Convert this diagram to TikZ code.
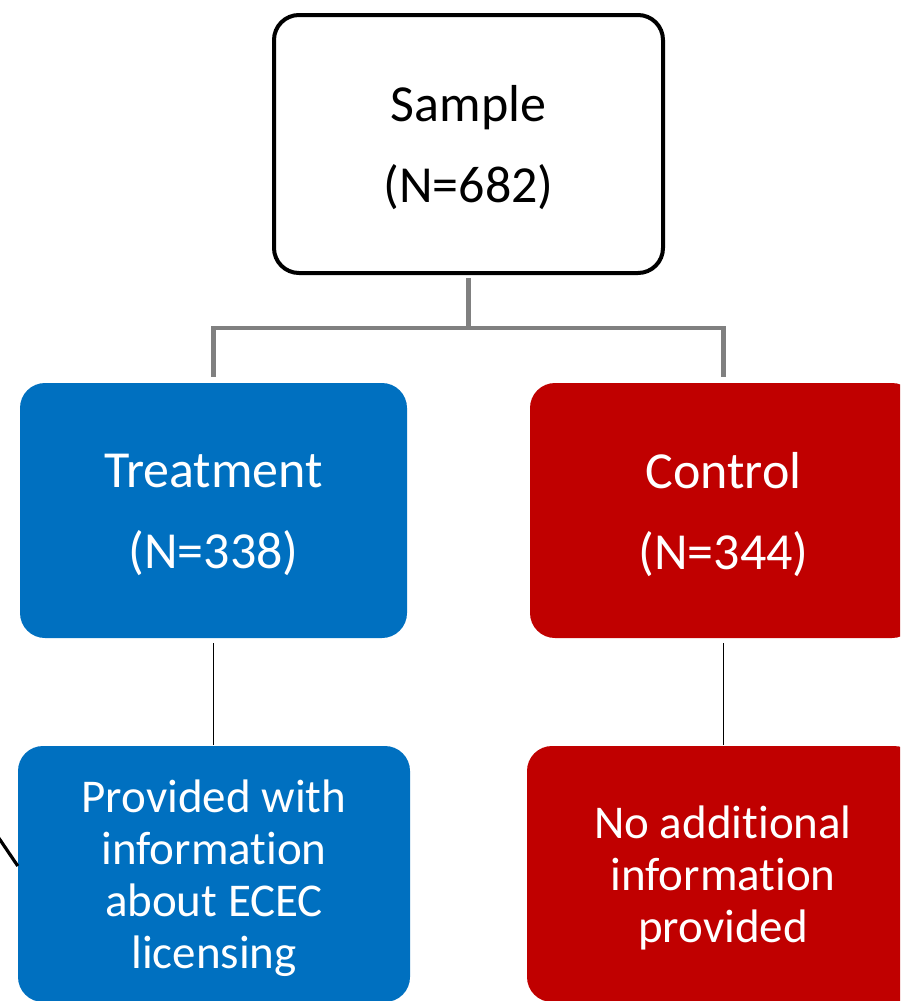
\documentclass[tikz,border=0pt]{standalone}
\usepackage{fontspec}
\setmainfont{Carlito}[RawFeature={-liga}]
\definecolor{tblue}{HTML}{0070C0}
\definecolor{cred}{HTML}{C00000}
\definecolor{cgray}{HTML}{808080}
\begin{document}
\begin{tikzpicture}[x=1pt,y=-1pt,
  box/.style={rounded corners=25pt, inner sep=0pt, anchor=center},
  lbl/.style={align=center, inner sep=0pt, anchor=center},
  topbox/.style={box, draw=black, line width=4pt, fill=white,
    minimum width=389pt, minimum height=258pt},
  midbox/.style={box, minimum width=387pt, minimum height=255pt},
  lowbox/.style={box, minimum width=392pt, minimum height=256pt},
  bigtxt/.style={lbl, font=\fontsize{52}{81}\selectfont},
  smalltxt/.style={lbl, text=white, font=\fontsize{47}{52}\selectfont},
  graycon/.style={draw=cgray, line width=4.5pt},
  thincon/.style={draw=black, line width=1.8pt}
]
\useasboundingbox (0,0) rectangle (900,1001);
\clip (0,0) rectangle (900,1001);
\node[topbox] (s) at (468.5,144) {};
\node[midbox, fill=tblue] (t) at (213.5,510.5) {};
\node[midbox, fill=cred] (c) at (723.5,510.5) {};
\node[lowbox, fill=tblue] (tb) at (214,874) {};
\node[lowbox, fill=cred] (cb) at (723,874) {};
\node[bigtxt, text=black] (sl) at ([yshift=-4pt]s.center) {Sample\\(N=682)};
\node[bigtxt, text=white] (tl) at ([yshift=-4pt]t.center) {Treatment\\(N=338)};
\node[bigtxt, text=white] (cl) at ([yshift=-4pt]c.center) {Control\\(N=344)};
\node[smalltxt] (tbl) at ([yshift=-4pt]tb.center) {Provided with\\information\\about ECEC\\licensing};
\node[smalltxt] (cbl) at ([yshift=-4pt]cb.center) {No additional\\information\\provided};
\coordinate (bar) at (468.5,328);
\draw[graycon, shorten <=3pt] (s.south) -- (bar);
\draw[graycon, shorten <=6pt, shorten >=6pt] (t.north) -- (t.north |- bar) -- (c.north |- bar) -- (c.north);
\draw[thincon, shorten <=5pt, shorten >=1pt] (t.south) -- (t.south |- tb.north);
\draw[thincon, shorten <=5pt, shorten >=1pt] (c.south) -- (c.south |- cb.north);
\coordinate (lx) at (-10,825);
\draw[draw=black, line width=3.2pt] (lx) -- ([yshift=8pt]tb.west);
\end{tikzpicture}
\end{document}
